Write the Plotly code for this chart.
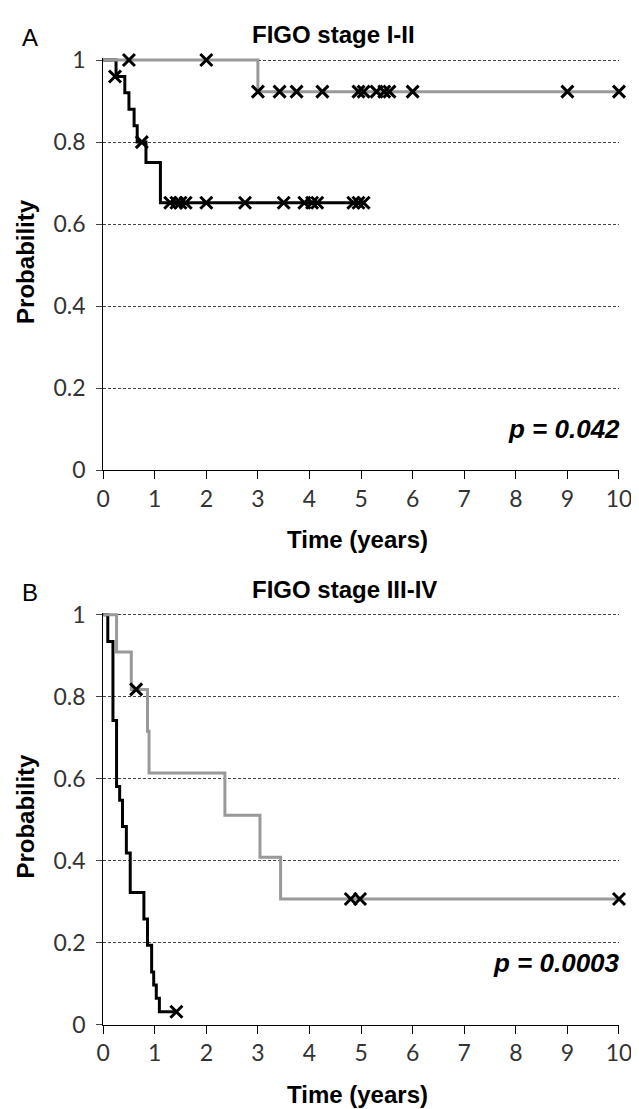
import plotly.graph_objects as go

W, H = 639, 1109

# ---------- data ----------
# Panel A: FIGO stage I-II  (step curves: time of change, survival after change)
a_black_t = [0, 0.25, 0.42, 0.50, 0.60, 0.66, 0.83, 1.11, 5.05]
a_black_s = [1, 0.96, 0.92, 0.88, 0.84, 0.80, 0.75, 0.652, 0.652]
a_gray_t = [0, 3.0, 10.0]
a_gray_s = [1, 0.923, 0.923]
a_black_cens_t = [0.23, 0.75, 1.30, 1.42, 1.50, 1.60, 2.0, 2.75, 3.5, 3.9, 4.05, 4.15, 4.85, 4.95, 5.05]
a_black_cens_s = [0.96, 0.80] + [0.652] * 13
a_gray_cens_t = [0.5, 2.0, 3.0, 3.42, 3.75, 4.25, 4.95, 5.05, 5.3, 5.45, 5.55, 6.0, 9.0, 10.0]
a_gray_cens_s = [1, 1] + [0.923] * 12

# Panel B: FIGO stage III-IV
b_black_t = [0, 0.09, 0.19, 0.26, 0.32, 0.375, 0.45, 0.525, 0.79, 0.86, 0.94, 0.98, 1.03, 1.09, 1.42]
b_black_s = [1, 0.935, 0.742, 0.581, 0.548, 0.484, 0.419, 0.323, 0.258, 0.194, 0.129, 0.097, 0.065, 0.032, 0.032]
b_gray_t = [0, 0.26, 0.545, 0.86, 0.89, 2.36, 3.04, 3.44, 10.0]
b_gray_s = [1, 0.909, 0.818, 0.716, 0.614, 0.511, 0.409, 0.307, 0.307]
b_black_cens_t = [1.42]
b_black_cens_s = [0.032]
b_gray_cens_t = [0.64, 4.8, 4.98, 10.0]
b_gray_cens_s = [0.818, 0.307, 0.307, 0.307]

y_ticks = [0, 0.2, 0.4, 0.6, 0.8, 1]
y_tick_text = ["0", "0.2", "0.4", "0.6", "0.8", "1"]
x_ticks = list(range(0, 11))

panel_titles = ["FIGO stage I-II", "FIGO stage III-IV"]
panel_letters = ["A", "B"]
p_values = ["p = 0.042", "p = 0.0003"]
p_value_y = [0.1, 0.15]

# ---------- layout geometry (pixels) ----------
X0, X1 = 91, 623.5
YTOP = 1.005
panels_px = [(40, 460), (608, 1028)]  # pixel of y=1 and y=0


def ydom(p1, p0):
    top = p0 - (p0 - p1) * YTOP
    return [1 - p0 / H, 1 - top / H]


BLACK = "#000000"
GRAY = "#999999"

fig = go.Figure()

panels = [
    (a_black_t, a_black_s, a_gray_t, a_gray_s, a_black_cens_t, a_black_cens_s, a_gray_cens_t, a_gray_cens_s),
    (b_black_t, b_black_s, b_gray_t, b_gray_s, b_black_cens_t, b_black_cens_s, b_gray_cens_t, b_gray_cens_s),
]

for i, (bt, bs, gt, gs, bct, bcs, gct, gcs) in enumerate(panels):
    xa = "x" if i == 0 else "x2"
    ya = "y" if i == 0 else "y2"
    fig.add_trace(go.Scatter(x=bt, y=bs, mode="lines", line=dict(color=BLACK, width=3, shape="hv"),
                             xaxis=xa, yaxis=ya, showlegend=False, hoverinfo="skip"))
    fig.add_trace(go.Scatter(x=gt, y=gs, mode="lines", line=dict(color=GRAY, width=3, shape="hv"),
                             xaxis=xa, yaxis=ya, showlegend=False, hoverinfo="skip"))
    fig.add_trace(go.Scatter(x=list(bct) + list(gct), y=list(bcs) + list(gcs), mode="markers",
                             marker=dict(symbol="x-thin", size=12, line=dict(color=BLACK, width=3)),
                             cliponaxis=False, xaxis=xa, yaxis=ya, showlegend=False, hoverinfo="skip"))

tick_font = dict(family="Lato, Carlito, Arial", size=23, color="#333333")
bold = "Liberation Sans, Arial"

axis_common_x = dict(range=[0, 10], tickvals=x_ticks, showline=True, linecolor=BLACK, linewidth=1,
                     ticks="outside", ticklen=8, tickcolor=BLACK, tickwidth=1, showgrid=False,
                     zeroline=False, tickfont=tick_font, fixedrange=True)
axis_common_y = dict(range=[0, YTOP], tickvals=y_ticks, ticktext=y_tick_text, showline=True,
                     linecolor=BLACK, linewidth=1, ticks="outside", ticklen=6, tickcolor="#444444",
                     showgrid=True, gridcolor="#444444", gridwidth=1, griddash="3px,2px",
                     zeroline=False, tickfont=tick_font, ticklabelstandoff=6, fixedrange=True)

xdom = [X0 / W, X1 / W]
fig.update_layout(
    width=W, height=H, margin=dict(l=0, r=0, t=0, b=0),
    paper_bgcolor="white", plot_bgcolor="white",
    xaxis=dict(domain=xdom, anchor="y", **axis_common_x),
    yaxis=dict(domain=ydom(*panels_px[0]), anchor="x", **axis_common_y),
    xaxis2=dict(domain=xdom, anchor="y2", **axis_common_x),
    yaxis2=dict(domain=ydom(*panels_px[1]), anchor="x2", **axis_common_y),
)

anns = []
for i, (p1, p0) in enumerate(panels_px):
    off = p1 - 40
    anns.append(dict(text=f"<b>{panel_titles[i]}</b>", x=243 / W, y=1 - (14 + off) / H, xref="paper", yref="paper",
                     showarrow=False, font=dict(family=bold, size=24, color=BLACK), xanchor="left", yanchor="middle"))
    anns.append(dict(text=panel_letters[i], x=15 / W, y=1 - (17 + off) / H, xref="paper", yref="paper",
                     showarrow=False, font=dict(family="Liberation Sans, Arial", size=24, color=BLACK),
                     xanchor="center", yanchor="middle"))
    anns.append(dict(text="<b>Time (years)</b>", x=279 / W, y=1 - (531 + off) / H, xref="paper", yref="paper",
                     showarrow=False, font=dict(family=bold, size=24, color=BLACK), xanchor="left", yanchor="middle"))
    anns.append(dict(text="<b>Probability</b>", x=11 / W, y=1 - (246 + off) / H, xref="paper", yref="paper",
                     showarrow=False, textangle=-90, font=dict(family=bold, size=24, color=BLACK),
                     xanchor="center", yanchor="middle"))
    xr = "x" if i == 0 else "x2"
    yr = "y" if i == 0 else "y2"
    anns.append(dict(text=f"<b><i>{p_values[i]}</i></b>", x=10, y=p_value_y[i], xref=xr, yref=yr,
                     showarrow=False, font=dict(family=bold, size=26, color=BLACK),
                     xanchor="right", yanchor="middle", xshift=3))

fig.update_layout(annotations=anns)
fig.write_html("out.html")
